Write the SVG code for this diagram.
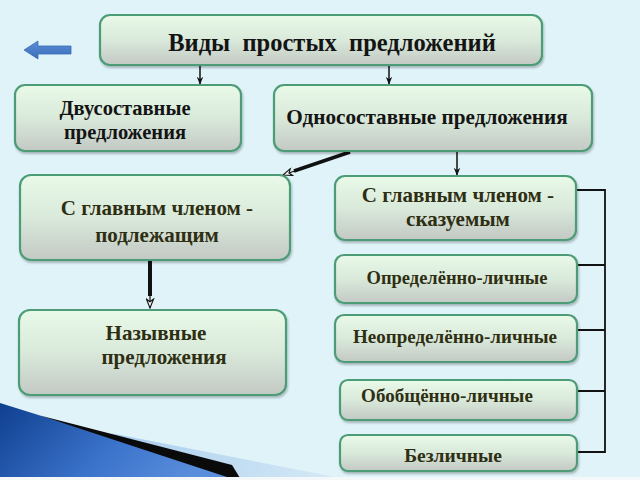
<svg xmlns="http://www.w3.org/2000/svg" width="640" height="480" viewBox="0 0 640 480">
<defs>
<linearGradient id="boxg" x1="0" y1="0" x2="0" y2="1">
<stop offset="0" stop-color="#e9fae9"/>
<stop offset="0.5" stop-color="#d9e9da"/>
<stop offset="1" stop-color="#c3c9c4"/>
</linearGradient>
<linearGradient id="blueg" x1="0" y1="0" x2="1" y2="0.3">
<stop offset="0" stop-color="#0f3f8f"/>
<stop offset="0.6" stop-color="#3c74cc"/>
<stop offset="1" stop-color="#5a8edc"/>
</linearGradient>
<linearGradient id="lightg" x1="0" y1="0" x2="1" y2="0">
<stop offset="0" stop-color="#a9cdee"/>
<stop offset="1" stop-color="#d6eaf6"/>
</linearGradient>
<linearGradient id="arrg" x1="0" y1="0" x2="0" y2="1">
<stop offset="0" stop-color="#5b8fd6"/>
<stop offset="1" stop-color="#3a6cb8"/>
</linearGradient>
<filter id="sh" x="-5%" y="-10%" width="110%" height="125%">
<feDropShadow dx="1" dy="2" stdDeviation="1.2" flood-color="#000" flood-opacity="0.25"/>
</filter>
<marker id="ah" viewBox="0 0 10 10" refX="9" refY="5" markerWidth="8" markerHeight="8" markerUnits="userSpaceOnUse" orient="auto">
<path d="M0,1 L10,5 L0,9 L3,5 Z" fill="#111"/>
</marker>
<marker id="aho" viewBox="0 0 12 10" refX="11" refY="5" markerWidth="12" markerHeight="9" markerUnits="userSpaceOnUse" orient="auto">
<path d="M1,1 L11,5 L1,9 L4,5 Z" fill="#f4f4f4" stroke="#111" stroke-width="1.2"/>
</marker>
</defs>
<style>
.box{fill:url(#boxg);stroke:#4e9c78;stroke-width:2.2;filter:url(#sh)}
.t{font-family:"Liberation Serif","Times New Roman",serif;font-weight:bold;text-anchor:middle}
.k{fill:#141414}
.o{fill:#2e2e12}
.c{stroke:#111;fill:none}
</style>
<rect width="640" height="480" fill="#dff3f8"/>
<g id="swoosh">
<path d="M0,403 L240,478 L0,478 Z" fill="url(#blueg)"/>
<path d="M110,433 L340,478 L232,478 Z" fill="url(#lightg)"/>
<path d="M40,415.5 L232,465 L240,478 L230,478 Z" fill="#0a0a0a"/>
<rect x="0" y="477" width="640" height="3" fill="#f4f8fa"/>
</g>
<g id="back-arrow">
<path d="M24,50 L38,41 L38,46 L71,46 L71,54 L38,54 L38,59 Z" fill="url(#arrg)" stroke="#3a6cb8" stroke-width="0.8"/>
</g>
<g id="connectors">
<line class="c" x1="200" y1="65" x2="200" y2="84" stroke-width="1.5" marker-end="url(#ah)"/>
<line class="c" x1="389" y1="65" x2="389" y2="84" stroke-width="1.5" marker-end="url(#ah)"/>
<line class="c" x1="457" y1="151" x2="457" y2="175" stroke-width="1.5" marker-end="url(#ah)"/>
<line class="c" x1="350" y1="152" x2="294" y2="171" stroke-width="3.5"/>
<line class="c" x1="296" y1="170.5" x2="283" y2="175" stroke-width="1.2" marker-end="url(#aho)"/>
<line class="c" x1="150" y1="260" x2="150" y2="296" stroke-width="4"/>
<line class="c" x1="150" y1="294" x2="150" y2="308" stroke-width="1.2" marker-end="url(#aho)"/>
<path class="c" stroke-width="1.8" d="M577,190 H605 V452 H577 M577,265 H605 M577,330 H605 M577,391 H605"/>
</g>
<g id="n-title">
<rect class="box" x="100" y="15" width="442" height="50" rx="10"/>
<text class="t k" x="332" y="51" font-size="24.5" xml:space="preserve">Виды  простых  предложений</text>
</g>
<g id="n-dvu">
<rect class="box" x="15" y="85" width="226" height="66" rx="10"/>
<text class="t k" x="125" y="115" font-size="20.5">Двусоставные</text>
<text class="t k" x="125" y="139" font-size="20.5">предложения</text>
</g>
<g id="n-odno">
<rect class="box" x="274" y="85" width="318" height="66" rx="10"/>
<text class="t k" x="427" y="124" font-size="21.2">Односоставные предложения</text>
</g>
<g id="n-podl">
<rect class="box" x="20" y="175" width="270" height="85" rx="11"/>
<text class="t o" x="157" y="215" font-size="21">С главным членом -</text>
<text class="t o" x="157" y="242" font-size="21">подлежащим</text>
</g>
<g id="n-nazyv">
<rect class="box" x="19" y="310" width="267" height="85" rx="11"/>
<text class="t o" x="156" y="340" font-size="21">Назывные</text>
<text class="t o" x="164" y="364" font-size="21">предложения</text>
</g>
<g id="n-skaz">
<rect class="box" x="335" y="176" width="241" height="64" rx="10"/>
<text class="t o" x="458" y="202" font-size="21">С главным членом -</text>
<text class="t o" x="458" y="226" font-size="21">сказуемым</text>
</g>
<g id="n-opr">
<rect class="box" x="335" y="255" width="242" height="48" rx="9"/>
<text class="t o" x="457" y="284" font-size="18.5">Определённо-личные</text>
</g>
<g id="n-neopr">
<rect class="box" x="335" y="315" width="242" height="47" rx="9"/>
<text class="t o" x="455" y="343" font-size="19">Неопределённо-личные</text>
</g>
<g id="n-obob">
<rect class="box" x="340" y="380" width="237" height="40" rx="8"/>
<text class="t o" x="447" y="402" font-size="19">Обобщённо-личные</text>
</g>
<g id="n-bezl">
<rect class="box" x="340" y="435" width="237" height="36" rx="8"/>
<text class="t o" x="453" y="462" font-size="19.5">Безличные</text>
</g>
</svg>
